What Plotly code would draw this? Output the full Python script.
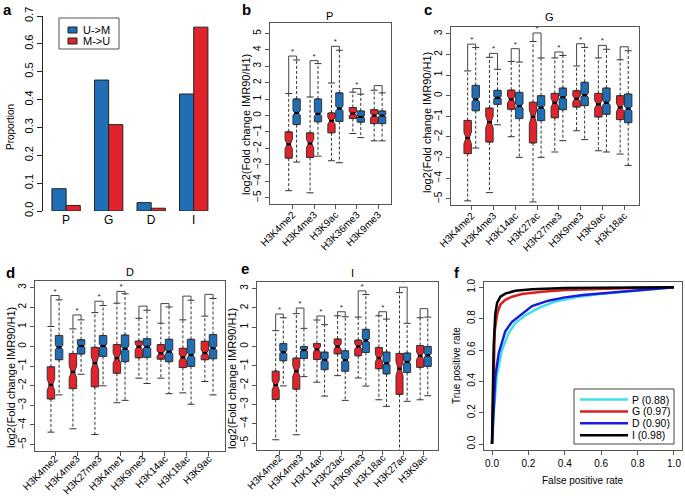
import plotly.graph_objects as go

W, H = 685, 496
FONT = "Liberation Sans, Arial, Helvetica, sans-serif"
RED = "#e3232b"
BLUE = "#1f6eb6"
EDGE = "#333333"

# ---------------- Panel a data ----------------
a_categories = ["P", "G", "D", "I"]
a_u_to_m = [0.08, 0.47, 0.03, 0.42]
a_m_to_u = [0.02, 0.31, 0.01, 0.66]
a_yticks = [0.0, 0.1, 0.2, 0.3, 0.4, 0.5, 0.6, 0.7]

# ---------------- Panel b (P) ----------------
b_marks = ["H3K4me2", "H3K4me3", "H3K9ac", "H3K36me3", "H3K9me3"]
b_red_q1 = [-2.59, -2.55, -1.05, -0.18, -0.49]
b_red_med = [-1.74, -1.70, -0.32, 0.12, 0.00]
b_red_q3 = [-0.99, -1.05, 0.16, 0.49, 0.36]
b_red_lo = [-4.57, -4.70, -2.75, -1.09, -1.54]
b_red_hi = [1.34, 1.13, 1.98, 1.42, 1.54]
b_blue_q1 = [-0.55, -0.38, -0.36, -0.40, -0.49]
b_blue_med = [0.16, 0.10, 0.43, -0.08, 0.00]
b_blue_q3 = [1.01, 1.01, 1.38, 0.28, 0.28]
b_blue_lo = [-2.83, -2.47, -2.87, -1.34, -1.54]
b_blue_hi = [3.38, 3.16, 3.97, 1.30, 1.38]
b_bracket = [3.62, 3.34, 4.21, 1.64, 1.82]
b_star = [1, 1, 1, 1, 0]

# ---------------- Panel c (G) ----------------
c_marks = ["H3K4me2", "H3K4me3", "H3K14ac", "H3K27ac", "H3K27me3", "H3K9me3", "H3K9ac", "H3K18ac"]
c_red_q1 = [-2.81, -2.25, -0.66, -2.29, -1.07, -0.55, -1.03, -1.16]
c_red_med = [-2.05, -1.28, -0.18, -1.02, -0.34, -0.15, -0.42, -0.57]
c_red_q3 = [-1.20, -0.60, 0.27, -0.32, 0.11, 0.24, 0.11, 0.00]
c_red_lo = [-5.10, -4.70, -1.99, -5.15, -2.73, -1.70, -2.67, -2.83]
c_red_hi = [1.20, 1.86, 1.66, 2.63, 1.83, 1.44, 1.83, 1.74]
c_blue_q1 = [-0.73, -0.42, -1.11, -1.21, -0.68, -0.48, -0.90, -1.31]
c_blue_med = [-0.18, -0.10, -0.50, -0.58, -0.08, 0.02, -0.34, -0.63]
c_blue_q3 = [0.50, 0.26, 0.16, 0.00, 0.37, 0.65, 0.37, 0.08]
c_blue_lo = [-2.54, -1.41, -2.99, -2.99, -2.18, -2.13, -2.73, -3.38]
c_blue_hi = [2.34, 1.28, 1.63, 1.83, 1.95, 2.34, 2.25, 2.18]
c_bracket = [2.50, 2.05, 2.28, 3.04, 2.12, 2.52, 2.44, 2.37]
c_star = [1, 1, 1, 1, 1, 1, 1, 0]

# ---------------- Panel d (D) ----------------
d_marks = ["H3K4me2", "H3K4me3", "H3K27me3", "H3K4me1", "H3K9me3", "H3K14ac", "H3K18ac", "H3K9ac"]
d_red_q1 = [-2.68, -2.15, -2.06, -1.37, -0.58, -0.65, -1.08, -0.68]
d_red_med = [-1.96, -1.30, -0.85, -0.60, -0.02, -0.36, -0.56, -0.34]
d_red_q3 = [-1.04, -0.36, -0.05, 0.09, 0.27, 0.09, -0.10, 0.26]
d_red_lo = [-4.37, -4.20, -4.49, -2.87, -1.62, -1.62, -2.37, -1.79]
d_red_hi = [1.01, 0.89, 1.72, 2.20, 1.43, 1.18, 1.35, 1.54]
d_blue_q1 = [-0.68, -0.39, -0.51, -0.78, -0.56, -0.78, -1.02, -0.63]
d_blue_med = [-0.05, 0.02, 0.02, -0.12, -0.02, -0.27, -0.44, -0.09]
d_blue_q3 = [0.55, 0.34, 0.55, 0.58, 0.39, 0.36, 0.36, 0.60]
d_blue_lo = [-2.47, -1.42, -2.01, -2.75, -1.89, -2.41, -2.95, -2.47]
d_blue_hi = [2.37, 1.35, 2.08, 2.68, 1.84, 2.01, 2.35, 2.44]
d_bracket = [2.59, 1.60, 2.30, 2.80, 2.05, 2.18, 2.56, 2.65]
d_star = [1, 1, 1, 1, 0, 0, 0, 0]

# ---------------- Panel e (I) ----------------
e_marks = ["H3K4me2", "H3K4me3", "H3K14ac", "H3K23ac", "H3K9me3", "H3K18ac", "H3K27ac", "H3K9ac"]
e_red_q1 = [-2.74, -2.21, -0.67, -0.38, -0.48, -1.15, -2.48, -1.08]
e_red_med = [-2.00, -1.28, -0.15, 0.00, 0.00, -0.60, -1.15, -0.48]
e_red_q3 = [-1.28, -0.60, 0.15, 0.39, 0.33, -0.05, -0.36, 0.05]
e_red_lo = [-4.83, -4.57, -1.85, -1.51, -1.63, -2.76, -5.80, -2.76]
e_red_hi = [0.82, 1.70, 1.37, 1.59, 1.52, 1.59, 2.79, 1.49]
e_blue_q1 = [-0.74, -0.62, -1.20, -1.28, -0.31, -1.42, -1.35, -1.03]
e_blue_med = [-0.29, -0.19, -0.70, -0.70, 0.31, -0.87, -0.80, -0.46]
e_blue_q3 = [0.15, 0.00, -0.29, -0.22, 0.89, -0.29, -0.34, 0.00]
e_blue_lo = [-2.04, -1.56, -2.57, -2.79, -2.05, -3.10, -2.84, -2.55]
e_blue_hi = [1.49, 0.94, 1.13, 1.54, 2.69, 1.42, 1.20, 1.52]
e_bracket = [1.68, 1.99, 1.58, 1.80, 2.88, 1.80, 3.07, 1.96]
e_star = [1, 1, 1, 1, 1, 1, 1, 0]

# ---------------- Panel f (ROC) ----------------
roc_names = ["P (0.88)", "G (0.97)", "D (0.90)", "I (0.98)"]
roc_colors = ["#3fe0e6", "#d92020", "#1a1ae0", "#000000"]
roc_p_fpr = [0, 0.009, 0.028, 0.055, 0.092, 0.128, 0.18, 0.26, 0.35, 0.46, 0.59, 0.77, 1.0]
roc_p_tpr = [0, 0.20, 0.45, 0.60, 0.71, 0.77, 0.82, 0.87, 0.91, 0.936, 0.957, 0.977, 1.0]
roc_g_fpr = [0, 0.005, 0.009, 0.015, 0.028, 0.046, 0.073, 0.11, 0.165, 0.275, 0.40, 0.59, 0.77, 1.0]
roc_g_tpr = [0, 0.25, 0.45, 0.72, 0.83, 0.89, 0.92, 0.94, 0.957, 0.972, 0.983, 0.991, 0.996, 1.0]
roc_d_fpr = [0, 0.01, 0.018, 0.037, 0.073, 0.11, 0.165, 0.22, 0.31, 0.40, 0.50, 0.68, 0.86, 1.0]
roc_d_tpr = [0, 0.25, 0.43, 0.58, 0.72, 0.78, 0.83, 0.88, 0.915, 0.936, 0.951, 0.97, 0.987, 1.0]
roc_i_fpr = [0, 0.005, 0.009, 0.018, 0.028, 0.046, 0.073, 0.128, 0.22, 0.40, 0.70, 1.0]
roc_i_tpr = [0, 0.45, 0.62, 0.83, 0.90, 0.94, 0.96, 0.978, 0.988, 0.996, 0.999, 1.0]
roc_ticks = [0.0, 0.2, 0.4, 0.6, 0.8, 1.0]


def px(x):
    return x / W


def py(y):
    return 1 - y / H


def dx(x0, x1):
    return [px(x0), px(x1)]


def dy(y0, y1):
    return [py(y1), py(y0)]


fig = go.Figure()
shapes = []
annotations = []


def ann(text, x, y, size=10, angle=0, bold=False, xanchor="center"):
    annotations.append(dict(
        text=("<b>%s</b>" % text) if bold else text, x=px(x), y=py(y),
        xref="paper", yref="paper", showarrow=False, textangle=angle,
        xanchor=xanchor, yanchor="middle",
        font=dict(family=FONT, size=size, color="black")))


# ---------------- Panel a ----------------
a_bar_pos_u = [1.5 + 3 * i for i in range(len(a_categories))]
a_bar_pos_m = [2.5 + 3 * i for i in range(len(a_categories))]
a_centers = [2 + 3 * i for i in range(len(a_categories))]
fig.add_trace(go.Bar(x=a_bar_pos_u, y=a_u_to_m, width=1, marker=dict(color=BLUE, line=dict(color="#222", width=1)),
                     name="U->M", showlegend=False, xaxis="x", yaxis="y", hoverinfo="skip"))
fig.add_trace(go.Bar(x=a_bar_pos_m, y=a_m_to_u, width=1, marker=dict(color=RED, line=dict(color="#222", width=1)),
                     name="M->U", showlegend=False, xaxis="x", yaxis="y", hoverinfo="skip"))

layout_axes = {}
layout_axes["xaxis"] = dict(domain=dx(43, 215), range=[0.37, 12.5], tickvals=a_centers, ticktext=a_categories,
                            showline=False, showgrid=False, zeroline=False, ticks="", anchor="y",
                            automargin=False, tickfont=dict(family=FONT, size=12, color="black"))
layout_axes["yaxis"] = dict(domain=dy(16, 211), range=[0, 0.7], tickvals=a_yticks,
                            ticktext=["%.1f" % v for v in a_yticks], tickangle=-90,
                            showline=True, linecolor="#222", linewidth=1, ticks="outside", ticklen=5,
                            tickcolor="#222", showgrid=False, zeroline=False, anchor="x", automargin=False,
                            tickfont=dict(family=FONT, size=11, color="black"))

# legend a (drawn manually)
shapes.append(dict(type="rect", xref="paper", yref="paper", x0=px(59), x1=px(119), y0=py(49), y1=py(18),
                   line=dict(color="#555", width=1), fillcolor="white"))
shapes.append(dict(type="rect", xref="paper", yref="paper", x0=px(68), x1=px(77), y0=py(33), y1=py(27),
                   line=dict(color="#222", width=1), fillcolor=BLUE))
shapes.append(dict(type="rect", xref="paper", yref="paper", x0=px(68), x1=px(77), y0=py(44), y1=py(38),
                   line=dict(color="#222", width=1), fillcolor=RED))
ann("U->M", 81, 30, size=11, xanchor="left")
ann("M->U", 81, 41, size=11, xanchor="left")
ann("Proportion", 10, 127, size=10, angle=-90)
ann("a", 7, 9, size=15, bold=True)

# ---------------- Box panels ----------------
OFF = 0.185
BW = 0.34


def box_panel(k, marks, rq1, rmed, rq3, rlo, rhi, bq1, bmed, bq3, blo, bhi, brk, star,
              xdom, ydom, xrange, yrange, yticks, standoff):
    xa, ya = "x%d" % k, "y%d" % k
    n = len(marks)
    xr = [g - OFF for g in range(n)]
    xb = [g + OFF for g in range(n)]
    # whiskers
    wx, wy, cx, cy = [], [], [], []
    for xs, q1, q3, lo, hi in ((xr, rq1, rq3, rlo, rhi), (xb, bq1, bq3, blo, bhi)):
        for x, a, b, l, h in zip(xs, q1, q3, lo, hi):
            wx += [x, x, None, x, x, None]
            wy += [b, h, None, a, l, None]
            cx += [x, x]
            cy += [h, l]
    fig.add_trace(go.Scatter(x=wx, y=wy, mode="lines", line=dict(color="#333", width=1, dash="3px,2px"),
                             xaxis=xa, yaxis=ya, showlegend=False, hoverinfo="skip"))
    fig.add_trace(go.Scatter(x=cx, y=cy, mode="markers",
                             marker=dict(symbol="line-ew-open", size=5, color="#333",
                                         line=dict(color="#333", width=1)),
                             xaxis=xa, yaxis=ya, showlegend=False, hoverinfo="skip", cliponaxis=True))
    # boxes
    for xs, q1, med, q3, col, fac in ((xr, rq1, rmed, rq3, RED, 0.17), (xb, bq1, bmed, bq3, BLUE, 0.08)):
        fig.add_trace(go.Box(x=xs, q1=q1, median=med, q3=q3, lowerfence=q1, upperfence=q3,
                             notched=True, notchspan=[fac * (b - a) for a, b in zip(q1, q3)], notchwidth=0.3,
                             width=BW, fillcolor=col, line=dict(color=EDGE, width=1), orientation="v",
                             xaxis=xa, yaxis=ya, showlegend=False, hoverinfo="skip"))
    # medians
    mx, my = [], []
    for xs, med in ((xr, rmed), (xb, bmed)):
        for x, m in zip(xs, med):
            mx += [x - BW * 0.32, x + BW * 0.32, None]
            my += [m, m, None]
    fig.add_trace(go.Scatter(x=mx, y=my, mode="lines", line=dict(color="black", width=2.2),
                             xaxis=xa, yaxis=ya, showlegend=False, hoverinfo="skip"))
    # brackets
    bx, by = [], []
    for g in range(n):
        bx += [xr[g], xr[g], xb[g], xb[g], None]
        by += [rhi[g], brk[g], brk[g], bhi[g], None]
    fig.add_trace(go.Scatter(x=bx, y=by, mode="lines", line=dict(color="#444", width=1),
                             xaxis=xa, yaxis=ya, showlegend=False, hoverinfo="skip"))
    sx = [g for g in range(n) if star[g]]
    sy = [brk[g] for g in range(n) if star[g]]
    fig.add_trace(go.Scatter(x=sx, y=sy, mode="text", text=["*"] * len(sx), textposition="top center",
                             textfont=dict(family=FONT, size=8, color="#222"),
                             xaxis=xa, yaxis=ya, showlegend=False, hoverinfo="skip"))
    layout_axes["xaxis%d" % k] = dict(domain=dx(*xdom), range=xrange, tickvals=list(range(n)), ticktext=marks,
                                      tickangle=-45, showline=True, mirror=True, linecolor="#555", linewidth=1,
                                      ticks="outside", ticklen=4, tickcolor="#555", showgrid=False,
                                      zeroline=False, anchor=ya, automargin=False, ticklabelstandoff=standoff,
                                      tickfont=dict(family=FONT, size=10, color="black"))
    layout_axes["yaxis%d" % k] = dict(domain=dy(*ydom), range=yrange, tickvals=yticks,
                                      ticktext=[str(v).replace("-", "\u2212") for v in yticks], tickangle=-90,
                                      showline=True, mirror=True, linecolor="#555", linewidth=1,
                                      ticks="outside", ticklen=4, tickcolor="#555", showgrid=False,
                                      zeroline=False, anchor=xa, automargin=False,
                                      tickfont=dict(family=FONT, size=10, color="black"))


box_panel(2, b_marks, b_red_q1, b_red_med, b_red_q3, b_red_lo, b_red_hi,
          b_blue_q1, b_blue_med, b_blue_q3, b_blue_lo, b_blue_hi, b_bracket, b_star,
          (270, 391), (23, 204), [-1.06, 4.6], [-5.38, 5.63], list(range(-5, 6)), -4)
box_panel(3, c_marks, c_red_q1, c_red_med, c_red_q3, c_red_lo, c_red_hi,
          c_blue_q1, c_blue_med, c_blue_q3, c_blue_lo, c_blue_hi, c_bracket, c_star,
          (451, 639), (27, 205), [-0.95, 7.68], [-5.3, 3.33], list(range(-5, 4)), -4)
box_panel(4, d_marks, d_red_q1, d_red_med, d_red_q3, d_red_lo, d_red_hi,
          d_blue_q1, d_blue_med, d_blue_q3, d_blue_lo, d_blue_hi, d_bracket, d_star,
          (35, 225), (281, 451), [-0.91, 7.73], [-5.33, 3.33], list(range(-5, 4)), -7)
box_panel(5, e_marks, e_red_q1, e_red_med, e_red_q3, e_red_lo, e_red_hi,
          e_blue_q1, e_blue_med, e_blue_q3, e_blue_lo, e_blue_hi, e_bracket, e_star,
          (257, 438), (282, 450), [-1.09, 7.68], [-5.36, 3.34], list(range(-5, 4)), -7)

YLAB = "log2(Fold change IMR90/H1)"
ann(YLAB, 246, 125, size=11, angle=-90)
ann(YLAB, 427, 123, size=11, angle=-90)
ann(YLAB, 11, 378, size=11, angle=-90)
ann(YLAB, 232, 379, size=11, angle=-90)
ann("P", 329, 16, size=11)
ann("G", 549, 17, size=11)
ann("D", 130, 272, size=11)
ann("I", 352, 273, size=11)
ann("b", 246, 10, size=15, bold=True)
ann("c", 428, 10, size=15, bold=True)
ann("d", 10, 272, size=15, bold=True)
ann("e", 245, 268, size=15, bold=True)
ann("f", 457, 272, size=15, bold=True)

# ---------------- Panel f ----------------
for name, col, fx, fy in zip(roc_names, roc_colors,
                             [roc_p_fpr, roc_g_fpr, roc_d_fpr, roc_i_fpr],
                             [roc_p_tpr, roc_g_tpr, roc_d_tpr, roc_i_tpr]):
    fig.add_trace(go.Scatter(x=fx, y=fy, mode="lines", line=dict(color=col, width=2.5), name=name,
                             xaxis="x6", yaxis="y6", showlegend=False, hoverinfo="skip"))
layout_axes["xaxis6"] = dict(domain=dx(484, 682), range=[-0.044, 1.044], tickvals=roc_ticks,
                             ticktext=["%.1f" % v for v in roc_ticks], showline=True, mirror=True,
                             linecolor="#555", linewidth=1, ticks="outside", ticklen=4, tickcolor="#555",
                             showgrid=False, zeroline=False, anchor="y6", automargin=False,
                             tickfont=dict(family=FONT, size=10, color="black"))
layout_axes["yaxis6"] = dict(domain=dy(282, 450), range=[-0.038, 1.034], tickvals=roc_ticks,
                             ticktext=["%.1f" % v for v in roc_ticks], tickangle=-90, showline=True, mirror=True,
                             linecolor="#555", linewidth=1, ticks="outside", ticklen=4, tickcolor="#555",
                             showgrid=False, zeroline=False, anchor="x6", automargin=False,
                             tickfont=dict(family=FONT, size=10, color="black"))
ann("False positive rate", 583, 480, size=10)
ann("True positive rate", 456, 366, size=10, angle=-90)

# legend f (drawn manually)
shapes.append(dict(type="rect", xref="paper", yref="paper", x0=px(574), x1=px(674), y0=py(444), y1=py(389),
                   line=dict(color="#444", width=1), fillcolor="white"))
for i, (name, col) in enumerate(zip(roc_names, roc_colors)):
    yy = 399.5 + i * 11.9
    shapes.append(dict(type="line", xref="paper", yref="paper", x0=px(580), x1=px(628), y0=py(yy), y1=py(yy),
                       line=dict(color=col, width=2.5)))
    ann(name, 630, yy, size=10.5, xanchor="left")

fig.update_layout(template="none", width=W, height=H, margin=dict(l=0, r=0, t=0, b=0, pad=0),
                  plot_bgcolor="white", paper_bgcolor="white", showlegend=False,
                  barmode="overlay", boxmode="overlay", hovermode=False,
                  shapes=shapes, annotations=annotations, font=dict(family=FONT), **layout_axes)
fig.write_html("out.html", config={"displayModeBar": False, "staticPlot": True},
               post_script="document.body.style.margin='0';document.body.style.overflow='hidden';")
